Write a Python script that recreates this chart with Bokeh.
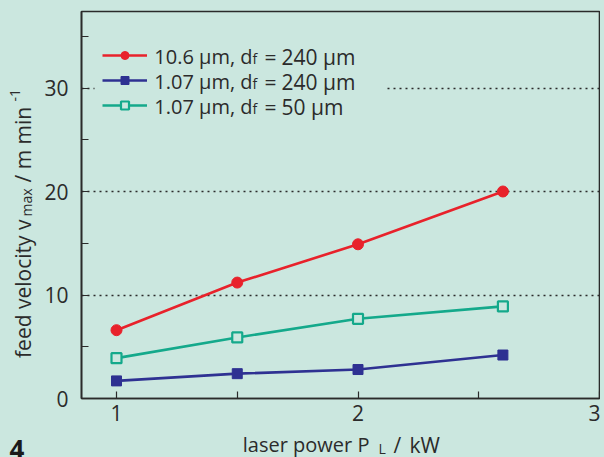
import math
from bokeh.plotting import figure
from bokeh.layouts import row, column
from bokeh.models import (Range1d, FixedTicker, Legend, LegendItem, Label, BoxAnnotation)
from bokeh.embed import file_html
from bokeh.resources import INLINE

# ---------------- data ----------------
power_kw = [1.0, 1.5, 2.0, 2.6]
v_co2_240 = [6.6, 11.2, 14.9, 20.0]      # 10.6 um, df = 240 um
v_fib_240 = [1.7, 2.4, 2.8, 4.2]         # 1.07 um, df = 240 um
v_fib_50 = [3.9, 5.9, 7.7, 8.9]          # 1.07 um, df = 50 um
x_ticks = [1, 2, 3]
x_minor = [1.5, 2.5]
y_ticks = [0, 10, 20, 30]
y_minor = [5, 15, 25, 35]
grid_ticks = [10, 20, 30]
legend_main = ["10.6 µm, d", "1.07 µm, d", "1.07 µm, d"]
legend_value = ["240 µm", "240 µm", "50 µm"]

# ---------------- style ----------------
BG = "#cbe7df"
INK = "#2b2b2b"
RED = "#e8222b"
BLUE = "#2e3192"
GREEN = "#14a98b"
FONT = "Open Sans"

TOTAL_W, TOTAL_H = 600, 457
STRIP_W = 40                 # left strip: y label and figure number
PLOT_H = 436                 # main plot height; footer below holds x label
W = TOTAL_W - STRIP_W
FOOT_H = TOTAL_H - PLOT_H

# page-pixel layout of the plot frame
FL, FR, FT, FB = 81, 599, 11, 398
X_AT_1 = 116
SX = (FR - X_AT_1) / 2.0
X0 = 1 - (X_AT_1 - FL) / SX
SY = 10.35
Y1 = (FB - FT) / SY

def dx(px):
    return X0 + (px - FL) / SX

def dy(py):
    return (FB - py) / SY

p = figure(width=W, height=PLOT_H, output_backend="svg", toolbar_location=None,
           x_range=Range1d(X0, 3.0), y_range=Range1d(0, Y1),
           min_border_left=FL - STRIP_W, min_border_right=STRIP_W + W - FR,
           min_border_top=FT, min_border_bottom=PLOT_H - FB)
p.background_fill_color = BG
p.border_fill_color = BG
p.outline_line_color = INK
p.outline_line_width = 1.6

for ax in (p.xaxis[0], p.yaxis[0]):
    ax.axis_line_color = INK
    ax.axis_line_width = 1.6
    ax.major_tick_line_color = INK
    ax.minor_tick_line_color = INK
    ax.major_tick_line_width = 1.2
    ax.minor_tick_line_width = 1.2
    ax.major_tick_in = 7
    ax.major_tick_out = 0
    ax.minor_tick_in = 7
    ax.minor_tick_out = 0
    ax.major_label_text_font = FONT
    ax.major_label_text_font_size = "21px"
    ax.major_label_text_color = INK
    ax.major_label_standoff = 13
p.xaxis[0].major_label_standoff = 6
p.xaxis[0].ticker = FixedTicker(ticks=x_ticks, minor_ticks=x_minor)
p.yaxis[0].ticker = FixedTicker(ticks=y_ticks, minor_ticks=y_minor)

p.xgrid.visible = False
p.ygrid[0].ticker = FixedTicker(ticks=grid_ticks)
p.ygrid.grid_line_color = INK
p.ygrid.grid_line_dash = "2 4"
p.ygrid.grid_line_width = 1.4

LW = 2.6
r1l = p.line(power_kw, v_co2_240, line_color=RED, line_width=LW)
r1m = p.scatter(power_kw, v_co2_240, marker="circle", size=11,
                fill_color=RED, line_color=RED)
r2l = p.line(power_kw, v_fib_240, line_color=BLUE, line_width=LW)
r2m = p.scatter(power_kw, v_fib_240, marker="square", size=10,
                fill_color=BLUE, line_color=BLUE)
r3l = p.line(power_kw, v_fib_50, line_color=GREEN, line_width=LW)
r3m = p.scatter(power_kw, v_fib_50, marker="square", size=10,
                fill_color=BG, line_color=GREEN, line_width=2.2)

# backing box of the legend (hides the 30 grid line there)
p.add_layout(BoxAnnotation(left=dx(94), right=dx(385), top=dy(35), bottom=dy(125),
                           fill_color=BG, fill_alpha=1.0, line_color=None))

legend = Legend(items=[LegendItem(label=" ", renderers=[r1l, r1m]),
                       LegendItem(label=" ", renderers=[r2l, r2m]),
                       LegendItem(label=" ", renderers=[r3l, r3m])],
                location=(21, 283), glyph_width=45, glyph_height=20,
                label_height=20, label_width=221, spacing=5, padding=10,
                margin=0, label_standoff=5,
                background_fill_alpha=0.0,
                border_line_color=None, label_text_font_size="20px")
p.add_layout(legend)

def txt(fig, ox, oy, x, y, s, size, align="left", angle=0.0, style="normal", color=INK):
    fig.add_layout(Label(x=x - ox, y=y - oy, x_units="canvas", y_units="canvas", text=s,
                         angle=angle, text_align=align, text_baseline="alphabetic",
                         text_font=FONT, text_font_size=size, text_font_style=style,
                         text_color=color))

# legend texts with subscripts (page coordinates)
row_base = [56, 81, 106]
for i in range(3):
    txt(p, STRIP_W, 0, 252, row_base[i], legend_main[i], "20px", align="right")
    txt(p, STRIP_W, 0, 252, row_base[i] + 2, "f", "14px")
    txt(p, STRIP_W, 0, 264, row_base[i], "=", "21px")
    txt(p, STRIP_W, 0, 281, row_base[i], legend_value[i], "21px")

def blank(w, h):
    f = figure(width=w, height=h, output_backend="svg", toolbar_location=None,
               x_range=Range1d(0, 1), y_range=Range1d(0, 1),
               x_axis_location=None, y_axis_location=None,
               min_border=0, min_border_left=0, min_border_right=0,
               min_border_top=0, min_border_bottom=0)
    f.background_fill_color = BG
    f.border_fill_color = BG
    f.outline_line_color = None
    f.grid.visible = False
    return f

# left strip: y axis label (rotated) and figure number
strip = blank(STRIP_W, TOTAL_H)
YB = 22
ang = math.pi / 2
txt(strip, 0, 0, YB, 219, "feed velocity v", "21px", align="right", angle=ang)
txt(strip, 0, 0, YB + 4, 216, "max", "14px", angle=ang)
txt(strip, 0, 0, YB, 182, "/ m min", "21px", angle=ang)
txt(strip, 0, 0, YB - 8, 101, "-1", "14px", angle=ang)
txt(strip, 0, 0, 9, 449, "4", "26px", style="bold", color="#1a1a1a")

# footer: x axis label with subscript
foot = blank(W, FOOT_H)
XB = 444
txt(foot, STRIP_W, PLOT_H, 369, XB, "laser power P", "20px", align="right")
txt(foot, STRIP_W, PLOT_H, 378, XB + 4, "L", "14px")
txt(foot, STRIP_W, PLOT_H, 393, XB, "/", "21px")
txt(foot, STRIP_W, PLOT_H, 409, XB, "kW", "21px")

layout = row(strip, column(p, foot, spacing=0), spacing=0)

html = file_html(layout, INLINE)
html = html.replace("<head>", "<head><style>html,body{background:%s;}</style>" % BG, 1)
open("out.html", "w").write(html)
